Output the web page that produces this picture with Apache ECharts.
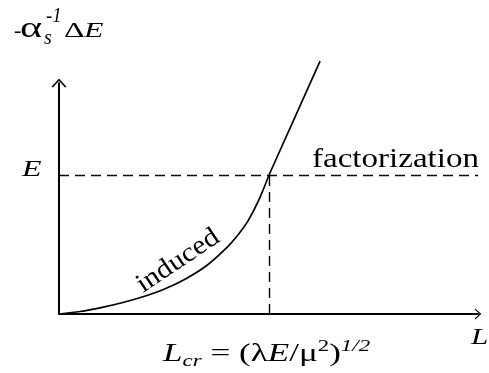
<!DOCTYPE html>
<html>
<head>
<meta charset="utf-8">
<script src="https://cdn.jsdelivr.net/npm/echarts@6/dist/echarts.min.js"></script>
<style>
  html, body { margin: 0; padding: 0; background: #fff; }
  #chart { width: 489px; height: 373px; }
</style>
</head>
<body>
<div id="chart"></div>
<script>
// L in units of L_cr, energy loss in units of E
const inducedL = [0, 0.1, 0.2, 0.3, 0.4, 0.5, 0.6, 0.7, 0.8, 0.85, 0.9, 0.95, 1.0];
const inducedE = [0, 0.018, 0.046, 0.081, 0.124, 0.178, 0.25, 0.345, 0.48, 0.565, 0.67, 0.815, 1.0];
const factL = [1.0, 1.243];
const factE = [1.0, 1.82];
const levelE = 1;       // E on the vertical axis
const criticalL = 1;    // L_cr on the horizontal axis
const axisMaxL = 1.995;
const axisMaxE = 1.662;
const dashEndL = 1.995;

const SERIF = '"Liberation Serif", "Times New Roman", serif';

const toPairs = (xs, ys) => xs.map((x, i) => [x, ys[i]]);

// open chevron used as arrow head, pointing up
const chevron = 'path://M0,11 L10,0 L20,11 L18,12 L10,3 L2,12 Z';

// plain text piece placed by its baseline
function label(text, x, baseline, size, opts) {
  opts = opts || {};
  return {
    type: 'text',
    x: x,
    y: baseline - 0.29 * size,
    scaleX: opts.scaleX || 1,
    style: {
      text: text,
      font: (opts.italic ? 'italic ' : '') + size + 'px ' + SERIF,
      fill: '#000',
      verticalAlign: 'middle'
    }
  };
}

const option = {
  animation: false,
  backgroundColor: '#fff',
  grid: { left: 59, right: 11, top: 83, bottom: 59 },
  xAxis: {
    type: 'value',
    min: 0,
    max: axisMaxL,
    axisLine: {
      show: true,
      symbol: ['none', chevron],
      symbolSize: [11, 12],
      lineStyle: { color: '#000', width: 2 }
    },
    axisTick: { show: true, inside: true, length: 5, customValues: [criticalL], lineStyle: { color: '#000', width: 1 } },
    axisLabel: { show: false },
    splitLine: { show: false }
  },
  yAxis: {
    type: 'value',
    min: 0,
    max: axisMaxE,
    axisLine: {
      show: true,
      symbol: ['none', chevron],
      symbolSize: [15, 9],
      lineStyle: { color: '#000', width: 2 }
    },
    axisTick: { show: true, inside: true, length: 5, customValues: [levelE], lineStyle: { color: '#000', width: 1 } },
    axisLabel: { show: false },
    splitLine: { show: false }
  },
  series: [
    {
      name: 'induced',
      type: 'line',
      data: toPairs(inducedL, inducedE),
      smooth: 0.3,
      symbol: 'none',
      clip: false,
      lineStyle: { color: '#000', width: 1.7 },
      markLine: {
        silent: true,
        symbol: ['none', 'none'],
        label: { show: false },
        lineStyle: { color: '#000', width: 1.4, type: [10, 6] },
        data: [
          [{ coord: [0, levelE] }, { coord: [dashEndL, levelE] }],
          [{ coord: [criticalL, 0] }, { coord: [criticalL, levelE] }]
        ]
      }
    },
    {
      name: 'factorization',
      type: 'line',
      data: toPairs(factL, factE),
      symbol: 'none',
      clip: false,
      lineStyle: { color: '#000', width: 1.7 }
    }
  ],
  graphic: [
    // vertical axis title: -α_s^-1 ΔE
    label('-', 14, 38, 22),
    label('α', 20, 38, 30, { scaleX: 1.4 }),
    label('-1', 46, 23, 22, { italic: true, scaleX: 0.85 }),
    label('s', 44, 45, 20, { italic: true }),
    label('Δ', 64, 38, 22, { scaleX: 1.45 }),
    label('E', 84, 38, 22, { italic: true, scaleX: 1.45 }),
    // E level
    label('E', 22, 177, 23, { italic: true, scaleX: 1.39 }),
    // factorization
    label('factorization', 312, 168, 28, { scaleX: 1.18 }),
    // induced, along the curve
    {
      type: 'text', x: 178, y: 261, rotation: 0.59, scaleX: 1.1,
      style: { text: 'induced', font: '27px ' + SERIF, fill: '#000', align: 'center', verticalAlign: 'middle' }
    },
    // L_cr formula
    {
      type: 'text', x: 163, y: 338, scaleX: 1.35,
      style: {
        text: '{i|L}{sub|cr}{n| = (λ}{i|E}{n|/μ}{sup|2}{n|)}{isup|1/2}',
        fill: '#000',
        verticalAlign: 'top',
        rich: {
          n: { font: '26px ' + SERIF, lineHeight: 32 },
          i: { font: 'italic 26px ' + SERIF, lineHeight: 32 },
          sub: { font: 'italic 17px ' + SERIF, lineHeight: 32, verticalAlign: 'bottom' },
          sup: { font: '17px ' + SERIF, lineHeight: 32, verticalAlign: 'top' },
          isup: { font: 'italic 17px ' + SERIF, lineHeight: 32, verticalAlign: 'top' }
        }
      }
    },
    // L axis label
    label('L', 471, 345, 24, { italic: true, scaleX: 1.3 })
  ]
};

const chart = echarts.init(document.getElementById('chart'), null, { renderer: 'canvas' });
chart.setOption(option);
</script>
</body>
</html>
